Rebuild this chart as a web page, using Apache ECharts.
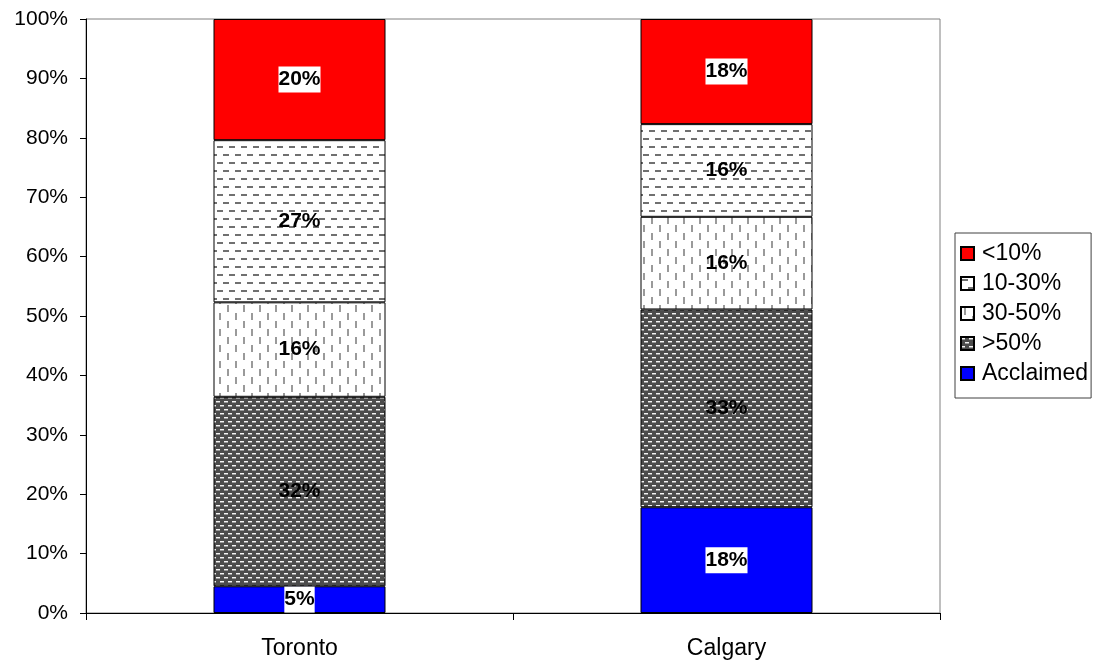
<!DOCTYPE html>
<html lang="en">
<head>
    <meta charset="UTF-8">
    <title>Stacked share</title>
    <script src="https://cdn.jsdelivr.net/npm/echarts@6/dist/echarts.min.js"></script>
    <style>
        html, body { margin: 0; padding: 0; background: #fff; }
    </style>
</head>
<body>
    <div id="main" style="width:1094px;height:662px;"></div>

    <script>
        // data, bottom to top
        const cities = ['Toronto', 'Calgary'];
        const acclaimed = [4.5, 17.8];
        const over50 = [31.9, 33.3];
        const from30to50 = [15.9, 15.6];
        const from10to30 = [27.3, 15.6];
        const under10 = [20.4, 17.7];

        // small tiles for the hatched fills
        function makeTile(w, h, bg, rects) {
            const c = document.createElement('canvas');
            c.width = w;
            c.height = h;
            const ctx = c.getContext('2d');
            ctx.fillStyle = bg;
            ctx.fillRect(0, 0, w, h);
            rects.forEach(function (r) {
                ctx.fillStyle = r[4];
                ctx.fillRect(r[0], r[1], r[2], r[3]);
            });
            return c;
        }
        const dotsTile = makeTile(8, 8, '#4c4c4c', [
            [0, 1, 4, 1, '#f4f4f4'], [0, 2, 4, 1, '#9a9a9a'],
            [4, 5, 4, 1, '#f4f4f4'], [4, 6, 4, 1, '#9a9a9a']
        ]);
        const hDashTile = makeTile(12, 16, '#ffffff', [
            [1, 2, 6, 2, '#707070'], [7, 10, 5, 2, '#707070'], [0, 10, 1, 2, '#707070']
        ]);
        const vDashTile = makeTile(16, 16, '#ffffff', [
            [3, 1, 2, 7, '#9a9a9a'], [11, 9, 2, 7, '#9a9a9a']
        ]);

        function pattern(tile) {
            return { image: tile, repeat: 'repeat' };
        }

        const fontFam = 'Liberation Sans, Arial, sans-serif';

        function labelOf(boxed) {
            const lbl = {
                show: true,
                position: 'inside',
                fontFamily: fontFam,
                fontSize: 21,
                fontWeight: 'bold',
                color: '#000',
                formatter: function (p) { return Math.round(p.value) + '%'; }
            };
            if (boxed) {
                lbl.backgroundColor = '#fff';
                lbl.padding = [3, 0, 2, 0];
            }
            return lbl;
        }

        function bar(name, values, fill, boxed) {
            return {
                name: name,
                type: 'bar',
                stack: 'total',
                barWidth: 172,
                data: values,
                itemStyle: { color: fill, borderColor: '#000', borderWidth: 1 },
                label: labelOf(boxed),
                emphasis: { disabled: true }
            };
        }

        const option = {
            animation: false,
            backgroundColor: '#fff',
            grid: {
                left: 86, right: 154, top: 19, bottom: 49,
                show: true, borderColor: '#808080', borderWidth: 1
            },
            legend: {
                orient: 'vertical',
                left: 955,
                top: 233,
                data: ['<10%', '10-30%', '30-50%', '>50%', 'Acclaimed'],
                icon: 'rect',
                itemWidth: 13,
                itemHeight: 13,
                itemGap: 7,
                padding: [9, 3, 13, 5],
                borderColor: '#404040',
                borderWidth: 1,
                textStyle: { fontFamily: fontFam, fontSize: 23, color: '#000', padding: [0, 0, 0, 3] },
                selectedMode: false
            },
            xAxis: {
                type: 'category',
                data: cities,
                boundaryGap: true,
                axisLine: { lineStyle: { color: '#000', width: 1 } },
                axisTick: { show: true, length: 7, lineStyle: { color: '#000' } },
                axisLabel: { margin: 24, fontFamily: fontFam, fontSize: 23, color: '#000' },
                splitLine: { show: false }
            },
            yAxis: {
                type: 'value',
                min: 0,
                max: 100,
                interval: 10,
                axisLine: { show: true, lineStyle: { color: '#000', width: 1 } },
                axisTick: { show: true, length: 6, lineStyle: { color: '#000' } },
                axisLabel: { margin: 18, fontFamily: fontFam, fontSize: 21, color: '#000', formatter: '{value}%' },
                splitLine: { show: false }
            },
            series: [
                bar('Acclaimed', acclaimed, '#0000ff', true),
                bar('>50%', over50, pattern(dotsTile), false),
                bar('30-50%', from30to50, pattern(vDashTile), false),
                bar('10-30%', from10to30, pattern(hDashTile), false),
                bar('<10%', under10, '#ff0000', true)
            ]
        };

        var myChart = echarts.init(document.getElementById('main'));
        myChart.setOption(option);
    </script>
</body>
</html>
